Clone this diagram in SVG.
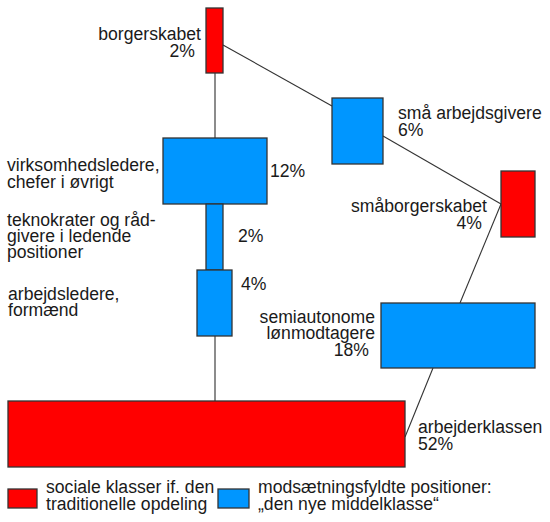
<svg xmlns="http://www.w3.org/2000/svg" width="550" height="522" viewBox="0 0 550 522">
<style>
text{font-family:"Liberation Sans",Arial,sans-serif;font-size:17.6px;fill:#1a1a1a}
.r{fill:#ff0000;stroke:#333;stroke-width:1.3}
.b{fill:#0096ff;stroke:#333;stroke-width:1.3}
.e{text-anchor:end}
#connectors line{stroke:#333;stroke-width:1.1}
#connectors .v{stroke:#666;stroke-width:1.5}
</style>
<rect width="550" height="522" fill="#fff"/>
<g id="connectors">
<line class="v" x1="215" y1="73" x2="215" y2="138"/>
<line class="v" x1="215" y1="336" x2="215" y2="401"/>
<line x1="223" y1="45" x2="332" y2="106"/>
<line x1="383" y1="136" x2="501" y2="204"/>
<line x1="501" y1="204" x2="460" y2="303"/>
<line x1="433" y1="368" x2="405" y2="437"/>
</g>
<g id="borgerskabet">
<rect class="r" x="206" y="8" width="17" height="65"/>
<text class="e" x="201" y="40">borgerskabet</text>
<text class="e" x="195" y="57">2%</text>
</g>
<g id="virksomhedsledere">
<rect class="b" x="163" y="138" width="104" height="66"/>
<text x="7" y="171">virksomhedsledere,</text>
<text x="7" y="188">chefer i øvrigt</text>
<text x="270" y="177">12%</text>
</g>
<g id="teknokrater">
<rect class="b" x="206" y="204" width="17" height="66"/>
<text x="7" y="226">teknokrater og råd-</text>
<text x="7" y="242">givere i ledende</text>
<text x="7" y="258">positioner</text>
<text x="238" y="242">2%</text>
</g>
<g id="arbejdsledere">
<rect class="b" x="197" y="270" width="35" height="66"/>
<text x="8" y="300">arbejdsledere,</text>
<text x="8" y="316">formænd</text>
<text x="241" y="290">4%</text>
</g>
<g id="arbejderklassen">
<rect class="r" x="8" y="401" width="397" height="66"/>
<text x="418" y="433">arbejderklassen</text>
<text x="418" y="450">52%</text>
</g>
<g id="smaa-arbejdsgivere">
<rect class="b" x="332" y="98" width="51" height="66"/>
<text x="398" y="119">små arbejdsgivere</text>
<text x="398" y="136">6%</text>
</g>
<g id="smaaborgerskabet">
<rect class="r" x="501" y="171" width="34" height="66"/>
<text class="e" x="487" y="212">småborgerskabet</text>
<text class="e" x="482" y="229">4%</text>
</g>
<g id="semiautonome">
<rect class="b" x="381" y="303" width="154" height="65"/>
<text class="e" x="375" y="323">semiautonome</text>
<text class="e" x="375" y="339">lønmodtagere</text>
<text class="e" x="369" y="356">18%</text>
</g>
<g id="legend">
<rect class="r" x="8" y="489" width="29" height="19"/>
<text x="46" y="493">sociale klasser if. den</text>
<text x="46" y="510">traditionelle opdeling</text>
<rect class="b" x="218" y="489" width="31" height="19"/>
<text x="258" y="493">modsætningsfyldte positioner:</text>
<text x="258" y="510">„den nye middelklasse“</text>
</g>
</svg>
